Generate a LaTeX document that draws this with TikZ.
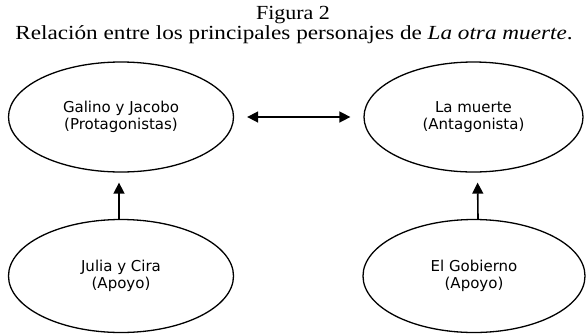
\documentclass[tikz,border=0pt]{standalone}
\usepackage{fontspec}
\setmainfont{Liberation Serif}
\newfontfamily\boxfont{DejaVu Sans}
\usetikzlibrary{arrows.meta,shapes.geometric}
\begin{document}
\begin{tikzpicture}[x=1pt,y=-1pt,
  persona/.style={draw,line width=1.3pt,ellipse,inner sep=0pt,align=center,
    font=\boxfont\fontsize{15}{17}\selectfont},
  conn/.style={line width=1.6pt,-{Triangle[length=11pt,width=11pt]}},
  dconn/.style={line width=1.6pt,{Triangle[length=11pt,width=11pt]}-{Triangle[length=11pt,width=11pt]}}]
\useasboundingbox (0,0) rectangle (586,333);
\node[font=\fontsize{20}{21}\selectfont] (fig) at (293,15) {\scalebox{1.1}[1]{Figura 2}};
\node[font=\fontsize{20}{21}\selectfont] (cap) at (294,35) {\scalebox{1.16}[1]{Relación entre los principales personajes de \textit{La otra muerte}.}};
\node[persona,minimum width=225pt,minimum height=110pt] (gj) at (121,117) {Galino y Jacobo\\(Protagonistas)};
\node[persona,minimum width=219pt,minimum height=110pt] (lm) at (473.5,117) {La muerte\\(Antagonista)};
\node[persona,minimum width=225pt,minimum height=113pt] (jc) at (121,276) {Julia y Cira\\(Apoyo)};
\node[persona,minimum width=222pt,minimum height=113pt] (eg) at (474,276) {El Gobierno\\(Apoyo)};
\draw[dconn,shorten <=13pt,shorten >=13pt] (gj) -- (lm);
\draw[conn,shorten >=10pt] ([xshift=-2pt]jc.north) -- ([xshift=-2pt]gj.south);
\draw[conn,shorten >=10pt] ([xshift=4pt]eg.north) -- ([xshift=4pt]lm.south);
\end{tikzpicture}
\end{document}
